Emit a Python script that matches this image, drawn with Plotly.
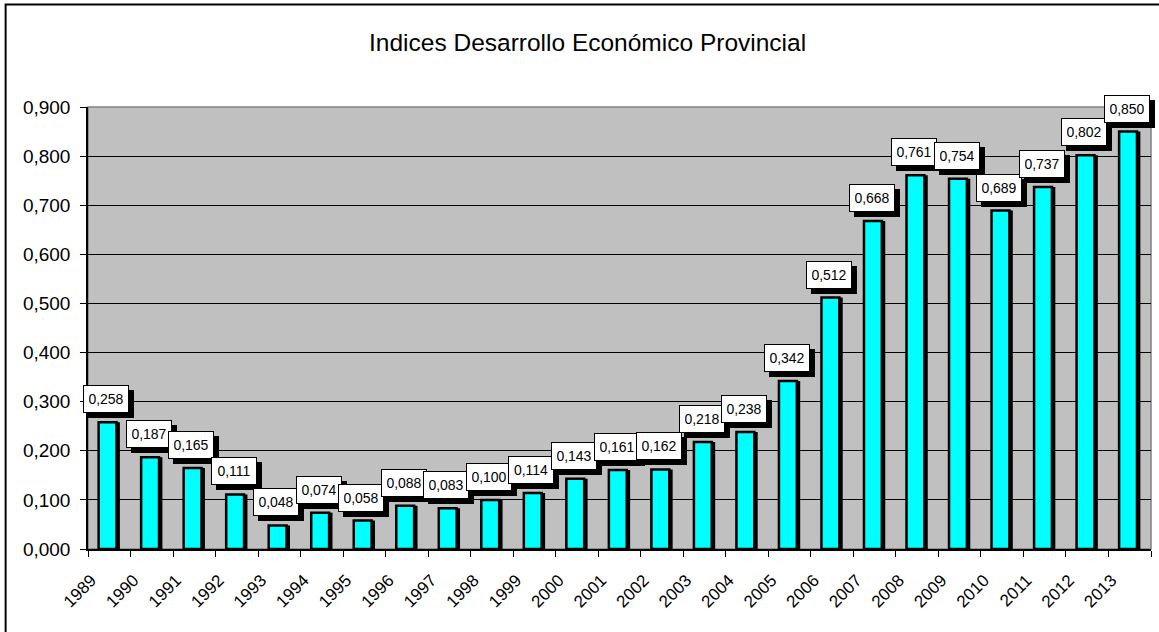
import plotly.graph_objects as go

years = ["1989", "1990", "1991", "1992", "1993", "1994", "1995", "1996", "1997", "1998",
         "1999", "2000", "2001", "2002", "2003", "2004", "2005", "2006", "2007", "2008",
         "2009", "2010", "2011", "2012", "2013"]
values = [0.258, 0.187, 0.165, 0.111, 0.048, 0.074, 0.058, 0.088, 0.083, 0.100,
          0.114, 0.143, 0.161, 0.162, 0.218, 0.238, 0.342, 0.512, 0.668, 0.761,
          0.754, 0.689, 0.737, 0.802, 0.850]
title = "Indices Desarrollo Económico Provincial"

FONT = "Liberation Sans, Arial, sans-serif"

fig = go.Figure()
# shadow bars
fig.add_trace(go.Bar(x=years, y=values, width=0.42, offset=-0.17,
                     marker=dict(color="black", line=dict(width=0)),
                     hoverinfo="skip", showlegend=False))
# main bars
fig.add_trace(go.Bar(x=years, y=values, width=0.42, offset=-0.25,
                     marker=dict(color="#00FFFF", line=dict(color="black", width=2.5)),
                     showlegend=False))

BW, BH = 34, 16
for i, v in enumerate(values):
    txt = f"{v:.3f}".replace(".", ",")
    # shadow box (no text)
    fig.add_annotation(x=i, y=v, text="&nbsp;", showarrow=False, yanchor="bottom",
                       width=BW, height=BH,
                       xshift=2, yshift=4, bgcolor="black", bordercolor="black",
                       borderwidth=1, borderpad=5,
                       font=dict(family=FONT, size=14, color="black"))
    fig.add_annotation(x=i, y=v, text=txt, showarrow=False, yanchor="bottom",
                       width=BW, height=BH,
                       xshift=-3, yshift=9, bgcolor="white", bordercolor="black",
                       borderwidth=1, borderpad=5,
                       font=dict(family=FONT, size=14, color="black"))

fig.add_annotation(text=title, xref="paper", yref="paper", x=0.47, y=1.147,
                   showarrow=False, xanchor="center", yanchor="middle",
                   font=dict(family=FONT, size=24.5, color="black"))

# plot-area gray border (top/right)
fig.add_shape(type="rect", xref="paper", yref="paper", x0=0, x1=1, y0=0, y1=1,
              line=dict(color="#808080", width=1.5), layer="below")
# outer chart frame
fig.add_shape(type="rect", xref="paper", yref="paper", x0=-0.0775, x1=1.2,
              y0=-0.4, y1=1.232, line=dict(color="black", width=2))

fig.update_layout(
    width=1159, height=632,
    margin=dict(l=88, r=8, t=107, b=83),
    paper_bgcolor="white", plot_bgcolor="#C0C0C0",
    barmode="overlay",
    separators=",.",
    font=dict(family=FONT, color="black"),
    xaxis=dict(type="category", range=[-0.5, len(years) - 0.5],
               tickson="boundaries", ticks="outside", ticklen=6,
               tickcolor="black", tickwidth=1, tickangle=-45,
               ticklabelshift=-18, ticklabelstandoff=13,
               showline=True, linecolor="black", linewidth=1.5,
               showgrid=False, tickfont=dict(family=FONT, size=17)),
    yaxis=dict(range=[0, 0.9], dtick=0.1, tickformat=".3f", ticks="outside",
               ticklen=6, tickcolor="black", showline=True, linecolor="black",
               linewidth=1.5, showgrid=True, gridcolor="black", gridwidth=1,
               ticklabelstandoff=6,
               zeroline=False, tickfont=dict(family=FONT, size=19)),
)

fig.write_html("out.html", config={"displayModeBar": False},
               post_script="document.body.style.margin='0';")
